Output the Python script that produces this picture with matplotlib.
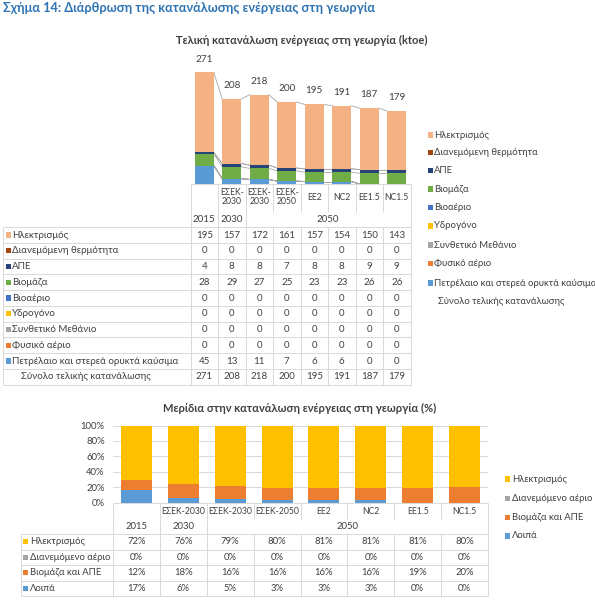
import matplotlib
matplotlib.use("Agg")
import matplotlib.pyplot as plt
from matplotlib import font_manager
from matplotlib.ft2font import FT2Font
import numpy as np

# ---------------- data ----------------
scenarios_top = ["", "ΕΣΕΚ-\n2030", "ΕΣΕΚ-\n2030", "ΕΣΕΚ-\n2050", "EE2", "NC2", "EE1.5", "NC1.5"]
scenarios_bot = ["", "ΕΣΕΚ-2030", "ΕΣΕΚ-2030", "ΕΣΕΚ-2050", "EE2", "NC2", "EE1.5", "NC1.5"]
years = ["2015", "2030", "2050"]
year_span = [1, 1, 6]

elec = [195, 157, 172, 161, 157, 154, 150, 143]
heat = [0, 0, 0, 0, 0, 0, 0, 0]
res = [4, 8, 8, 7, 8, 8, 9, 9]
biomass = [28, 29, 27, 25, 23, 23, 26, 26]
biogas = [0, 0, 0, 0, 0, 0, 0, 0]
hydrogen = [0, 0, 0, 0, 0, 0, 0, 0]
synmethane = [0, 0, 0, 0, 0, 0, 0, 0]
natgas = [0, 0, 0, 0, 0, 0, 0, 0]
oil = [45, 13, 11, 7, 6, 6, 0, 0]
total = [271, 208, 218, 200, 195, 191, 187, 179]

top_names = ["Ηλεκτρισμός", "Διανεμόμενη θερμότητα", "ΑΠΕ", "Βιομάζα", "Βιοαέριο",
             "Υδρογόνο", "Συνθετικό Μεθάνιο", "Φυσικό αέριο",
             "Πετρέλαιο και στερεά ορυκτά καύσιμα"]
total_name = "Σύνολο τελικής κατανάλωσης"
top_colors = ["#F4B183", "#9E480E", "#264478", "#70AD47", "#4472C4",
              "#FFC000", "#A5A5A5", "#ED7D31", "#5B9BD5"]

share_elec = [72, 76, 79, 80, 81, 81, 81, 80]
share_gas = [0, 0, 0, 0, 0, 0, 0, 0]
share_bio = [12, 18, 16, 16, 16, 16, 19, 20]
share_other = [17, 6, 5, 3, 3, 3, 0, 0]
bot_names = ["Ηλεκτρισμός", "Διανεμόμενο αέριο", "Βιομάζα και ΑΠΕ", "Λοιπά"]
bot_colors = ["#FFC000", "#A5A5A5", "#ED7D31", "#5B9BD5"]

fig_title = "Σχήμα 14: Διάρθρωση της κατανάλωσης ενέργειας στη γεωργία"
top_title = "Τελική κατανάλωση ενέργειας στη γεωργία (ktoe)"
bot_title = "Μερίδια στην κατανάλωση ενέργειας στη γεωργία (%)"


def pick_font():
    for fam in ["Lato", "Carlito", "Roboto", "Open Sans", "DejaVu Sans"]:
        try:
            p = font_manager.findfont(fam, fallback_to_default=False)
            cm = FT2Font(p).get_charmap()
            if all(ord(c) in cm for c in "ΣλύάέΕΚ"):
                return fam
        except Exception:
            pass
    return "DejaVu Sans"


FONT = pick_font()
plt.rcParams["font.family"] = [FONT, "DejaVu Sans"]

TXT = "#404040"
GRID = "#D9D9D9"
FS = 6.8
FS_TAB = 7.0
FS_HEAD = 6.2

W, H = 595, 600
fig = plt.figure(figsize=(W / 100, H / 100), dpi=100)

ov = fig.add_axes([0, 0, 1, 1], zorder=0)
ov.set_xlim(0, W)
ov.set_ylim(H, 0)
ov.axis("off")

fig.text(3 / W, 1 - 8 / H, fig_title, color="#2E74B5", fontsize=9.2,
         fontweight="bold", ha="left", va="center")


def hline(x0, x1, y):
    ov.plot([x0, x1], [y, y], color=GRID, lw=0.7, solid_capstyle="butt")


def vline(x, y0, y1):
    ov.plot([x, x], [y0, y1], color=GRID, lw=0.7, solid_capstyle="butt")


def draw_table(x0, cw, base, lvl1_bottom, year_bottom, row_h, left, labels,
               colors, rows, fmt, scen, key_x, text_x, extra_label=None, extra_x=None,
               lvl1_y=None, fs=FS):
    n = len(rows[0])
    right = x0 + n * cw
    cx = [x0 + (i + 0.5) * cw for i in range(n)]
    # header level 1
    for i, s in enumerate(scen):
        if s:
            ov.text(cx[i], lvl1_y, s, ha="center", va="center", fontsize=FS_HEAD,
                    color=TXT, linespacing=1.1)
    for k in range(n + 1):
        vline(x0 + k * cw, base, lvl1_bottom)
    # header level 2
    start = 0
    edges = [0]
    for y, sp in zip(years, year_span):
        mid = x0 + (start + sp / 2) * cw
        ov.text(mid, (lvl1_bottom + year_bottom) / 2, y, ha="center", va="center",
                fontsize=fs, color=TXT)
        start += sp
        edges.append(start)
    for e in edges:
        vline(x0 + e * cw, lvl1_bottom, year_bottom)
    hline(x0, right, base)
    # data rows
    nrows = len(rows)
    bottom = year_bottom + nrows * row_h
    for r in range(nrows + 1):
        hline(left, right, year_bottom + r * row_h)
    vline(left, year_bottom, bottom)
    for k in range(n + 1):
        vline(x0 + k * cw, year_bottom, bottom)
    for r, vals in enumerate(rows):
        yc = year_bottom + (r + 0.5) * row_h
        if r < len(labels):
            ov.add_patch(plt.Rectangle((key_x, yc - 2.6), 5.2, 5.2,
                                       color=colors[r], lw=0))
            ov.text(text_x, yc, labels[r], ha="left", va="center", fontsize=fs,
                    color=TXT)
        else:
            ov.text(extra_x, yc, extra_label, ha="left", va="center", fontsize=fs,
                    color=TXT)
        for i, v in enumerate(vals):
            ov.text(cx[i], yc, fmt(v), ha="center", va="center", fontsize=fs,
                    color=TXT)


def draw_legend(x_key, x_text, ys, labels, colors, extra=None):
    for y, lab, c in zip(ys, labels, colors):
        ov.add_patch(plt.Rectangle((x_key, y - 2.6), 5.2, 5.2, color=c, lw=0))
        ov.text(x_text, y, lab, ha="left", va="center", fontsize=FS, color=TXT)
    if extra is not None:
        ov.text(extra[0], extra[1], extra[2], ha="left", va="center", fontsize=FS,
                color=TXT)


# ---------------- top chart ----------------
TX0, TCW, TBASE, TTOP, TYMAX = 190.5, 27.5, 184.0, 61.0, 300.0
axt = fig.add_axes([TX0 / W, 1 - TBASE / H, 8 * TCW / W, (TBASE - TTOP) / H], zorder=2)
axt.set_facecolor("none")
top_series = [elec, heat, res, biomass, biogas, hydrogen, synmethane, natgas, oil]
stack_order = list(range(len(top_series)))[::-1]  # oil at the bottom
x = np.arange(8)
bw = 0.69
cum = np.zeros(8)
levels = []
for k in stack_order:
    v = np.array(top_series[k], dtype=float)
    axt.bar(x, v, bw, bottom=cum, color=top_colors[k], lw=0, zorder=3)
    cum = cum + v
    levels.append(cum.copy())
for lv in levels:
    for i in range(7):
        axt.plot([i + bw / 2, i + 1 - bw / 2], [lv[i], lv[i + 1]], color="#A6A6A6",
                 lw=0.6, zorder=2)
for i, t in enumerate(total):
    axt.annotate(str(t), (x[i], t), xytext=(0, 9.5), textcoords="offset points",
                 ha="center", va="center", fontsize=7.2, color=TXT)
axt.set_xlim(-0.5, 7.5)
axt.set_ylim(0, TYMAX)
axt.axis("off")
fig.text(302 / W, 1 - 40 / H, top_title, ha="center", va="center", fontsize=8,
         fontweight="bold", color=TXT)

draw_table(TX0, TCW, TBASE, 212.0, 227.2, 15.75, 3.0, top_names, top_colors,
           top_series + [total], lambda v: f"{v}", scenarios_top, 5.5, 12.0,
           extra_label=total_name, extra_x=21.0, lvl1_y=197.0, fs=FS_TAB)

draw_legend(428, 434, [135, 152.5, 170.5, 189, 207.5, 226, 245, 263.5, 283],
            top_names, top_colors, extra=(438, 302, total_name))

# ---------------- bottom chart ----------------
BX0, BCW, BBASE, BTOP = 113.0, 46.875, 502.5, 425.5
axb = fig.add_axes([BX0 / W, 1 - BBASE / H, 8 * BCW / W, (BBASE - BTOP) / H], zorder=2)
axb.set_facecolor("none")
bot_series = [share_elec, share_gas, share_bio, share_other]
tot_b = np.sum(np.array(bot_series, dtype=float), axis=0)
cum = np.zeros(8)
bbw = 0.66
for k in [3, 2, 1, 0]:
    v = np.array(bot_series[k], dtype=float) / tot_b * 100
    axb.bar(x, v, bbw, bottom=cum, color=bot_colors[k], lw=0, zorder=3)
    cum = cum + v
axb.set_xlim(-0.5, 7.5)
axb.set_ylim(0, 100)
axb.set_yticks([0, 20, 40, 60, 80, 100])
axb.set_yticklabels(["0%", "20%", "40%", "60%", "80%", "100%"], fontsize=FS, color=TXT)
axb.tick_params(axis="y", length=0, pad=6)
axb.set_xticks([])
axb.yaxis.grid(True, color=GRID, lw=0.7, zorder=0)
for s in axb.spines.values():
    s.set_visible(False)
fig.text(300 / W, 1 - 408 / H, bot_title, ha="center", va="center", fontsize=8,
         fontweight="bold", color=TXT)

draw_table(BX0, BCW, BBASE, 519.0, 534.0, 15.5, 21.0, bot_names, bot_colors,
           bot_series, lambda v: f"{v}%", scenarios_bot, 23.0, 30.0, lvl1_y=511.5)

draw_legend(505, 512, [479, 498.5, 517.5, 536], bot_names, bot_colors)

fig.savefig("out.png", dpi=100)
